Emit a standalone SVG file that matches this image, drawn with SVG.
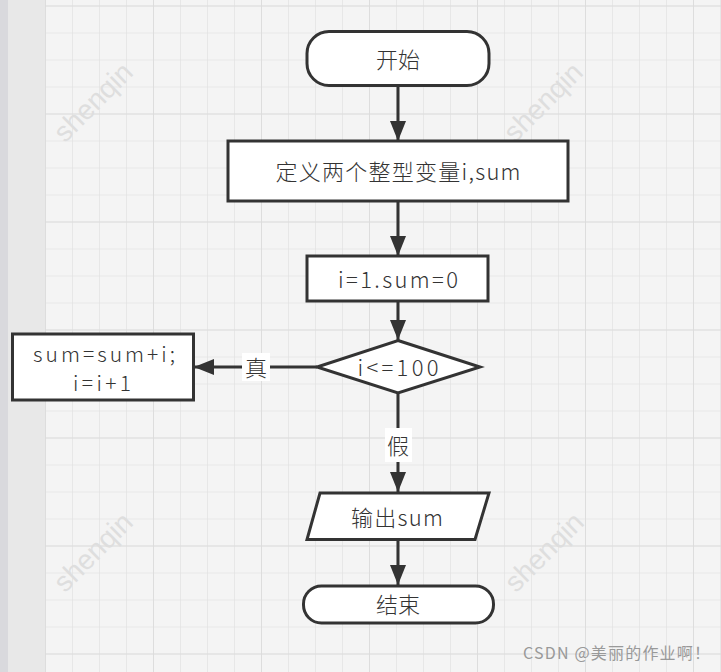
<svg xmlns="http://www.w3.org/2000/svg" width="721" height="672" viewBox="0 0 721 672">
<defs>
<pattern id="minor" x="45" y="5.5" width="27" height="27" patternUnits="userSpaceOnUse">
<path d="M0 0 H27 M0 0 V27" fill="none" stroke="#e3e3e3" stroke-width="1.5"/>
</pattern>
<pattern id="major" x="45" y="5.5" width="108" height="108" patternUnits="userSpaceOnUse">
<path d="M0 0 H108 M0 0 V108" fill="none" stroke="#dadada" stroke-width="1.5"/>
</pattern>
<marker id="ah" viewBox="0 0 20 16" refX="20" refY="8" markerWidth="20" markerHeight="16" markerUnits="userSpaceOnUse" orient="auto">
<path d="M0 0 L20 8 L0 16 Z" fill="#333"/>
</marker>
</defs>
<style>
.shape{fill:#fff;stroke:#333;stroke-width:3}
.t{font-family:"Noto Sans CJK SC","Microsoft YaHei","Noto Sans",sans-serif;font-size:22px;font-weight:300;fill:#333;text-anchor:middle;dominant-baseline:central}
.lbl{font-family:"Noto Sans CJK SC","Noto Sans",sans-serif;font-size:22px;font-weight:300;fill:#333;text-anchor:middle;dominant-baseline:central}
.conn{fill:none;stroke:#333;stroke-width:3}
.wm{font-family:"Liberation Sans",Arial,sans-serif;font-size:28px;fill:#dedede;text-anchor:middle;dominant-baseline:central}
</style>
<rect x="0" y="0" width="721" height="672" fill="#f4f4f4"/>
<rect x="45" y="0" width="676" height="672" fill="url(#minor)"/>
<rect x="45" y="0" width="676" height="672" fill="url(#major)"/>
<rect x="0" y="0" width="45" height="672" fill="#e8e8e8"/>
<rect x="0" y="0" width="8" height="672" fill="#d9d9dd"/>
<g id="watermarks">
<text class="wm" transform="translate(93,102) rotate(-45)">shenqin</text>
<text class="wm" transform="translate(543,102) rotate(-45)">shenqin</text>
<text class="wm" transform="translate(93,552) rotate(-45)">shenqin</text>
<text class="wm" transform="translate(544,552) rotate(-45)">shenqin</text>
</g>
<g id="connectors">
<line class="conn" x1="398" y1="86" x2="398" y2="141" marker-end="url(#ah)"/>
<line class="conn" x1="398" y1="201" x2="398" y2="256" marker-end="url(#ah)"/>
<line class="conn" x1="398" y1="301" x2="398" y2="340" marker-end="url(#ah)"/>
<line class="conn" x1="317" y1="367" x2="194" y2="367" marker-end="url(#ah)"/>
<rect x="242" y="353" width="28" height="28" fill="#fff"/>
<text class="lbl" x="256" y="366">真</text>
<line class="conn" x1="398" y1="393" x2="398" y2="492" marker-end="url(#ah)"/>
<rect x="385" y="428" width="27" height="34" fill="#fff"/>
<text class="lbl" x="398" y="444">假</text>
<line class="conn" x1="398" y1="540" x2="398" y2="585" marker-end="url(#ah)"/>
</g>
<g id="start">
<rect class="shape" x="307" y="31.5" width="182" height="54" rx="22" ry="22"/>
<text class="t" x="398" y="57.5">开始</text>
</g>
<g id="define">
<rect class="shape" x="228" y="141" width="340" height="60"/>
<text class="t" x="398" y="169.5" textLength="245" lengthAdjust="spacing">定义两个整型变量i,sum</text>
</g>
<g id="init">
<rect class="shape" x="307" y="256" width="181" height="45"/>
<text class="t" x="398" y="277.5" textLength="120" lengthAdjust="spacing">i=1.sum=0</text>
</g>
<g id="cond">
<polygon class="shape" points="398,340.5 480,367 398,393 317,367"/>
<text class="t" x="398" y="365.5" textLength="81" lengthAdjust="spacing">i&lt;=100</text>
</g>
<g id="loop">
<rect class="shape" x="12.5" y="334" width="181" height="66"/>
<text class="t" x="104" y="352.5" style="font-size:21px" textLength="142" lengthAdjust="spacing">sum=sum+i;</text>
<text class="t" x="102" y="381.5" style="font-size:21px" textLength="58" lengthAdjust="spacing">i=i+1</text>
</g>
<g id="output">
<polygon class="shape" points="320,493 489,493 475,539.5 307,539.5"/>
<text class="t" x="397" y="516" textLength="92" lengthAdjust="spacing">输出sum</text>
</g>
<g id="end">
<rect class="shape" x="303.5" y="586" width="190" height="37" rx="18" ry="18"/>
<text class="t" x="398" y="603">结束</text>
</g>
<text x="523" y="659" font-family="'Noto Sans CJK SC','Noto Sans',sans-serif" font-size="16" fill="#999" textLength="187" lengthAdjust="spacing">CSDN @美丽的作业啊！</text>
</svg>
